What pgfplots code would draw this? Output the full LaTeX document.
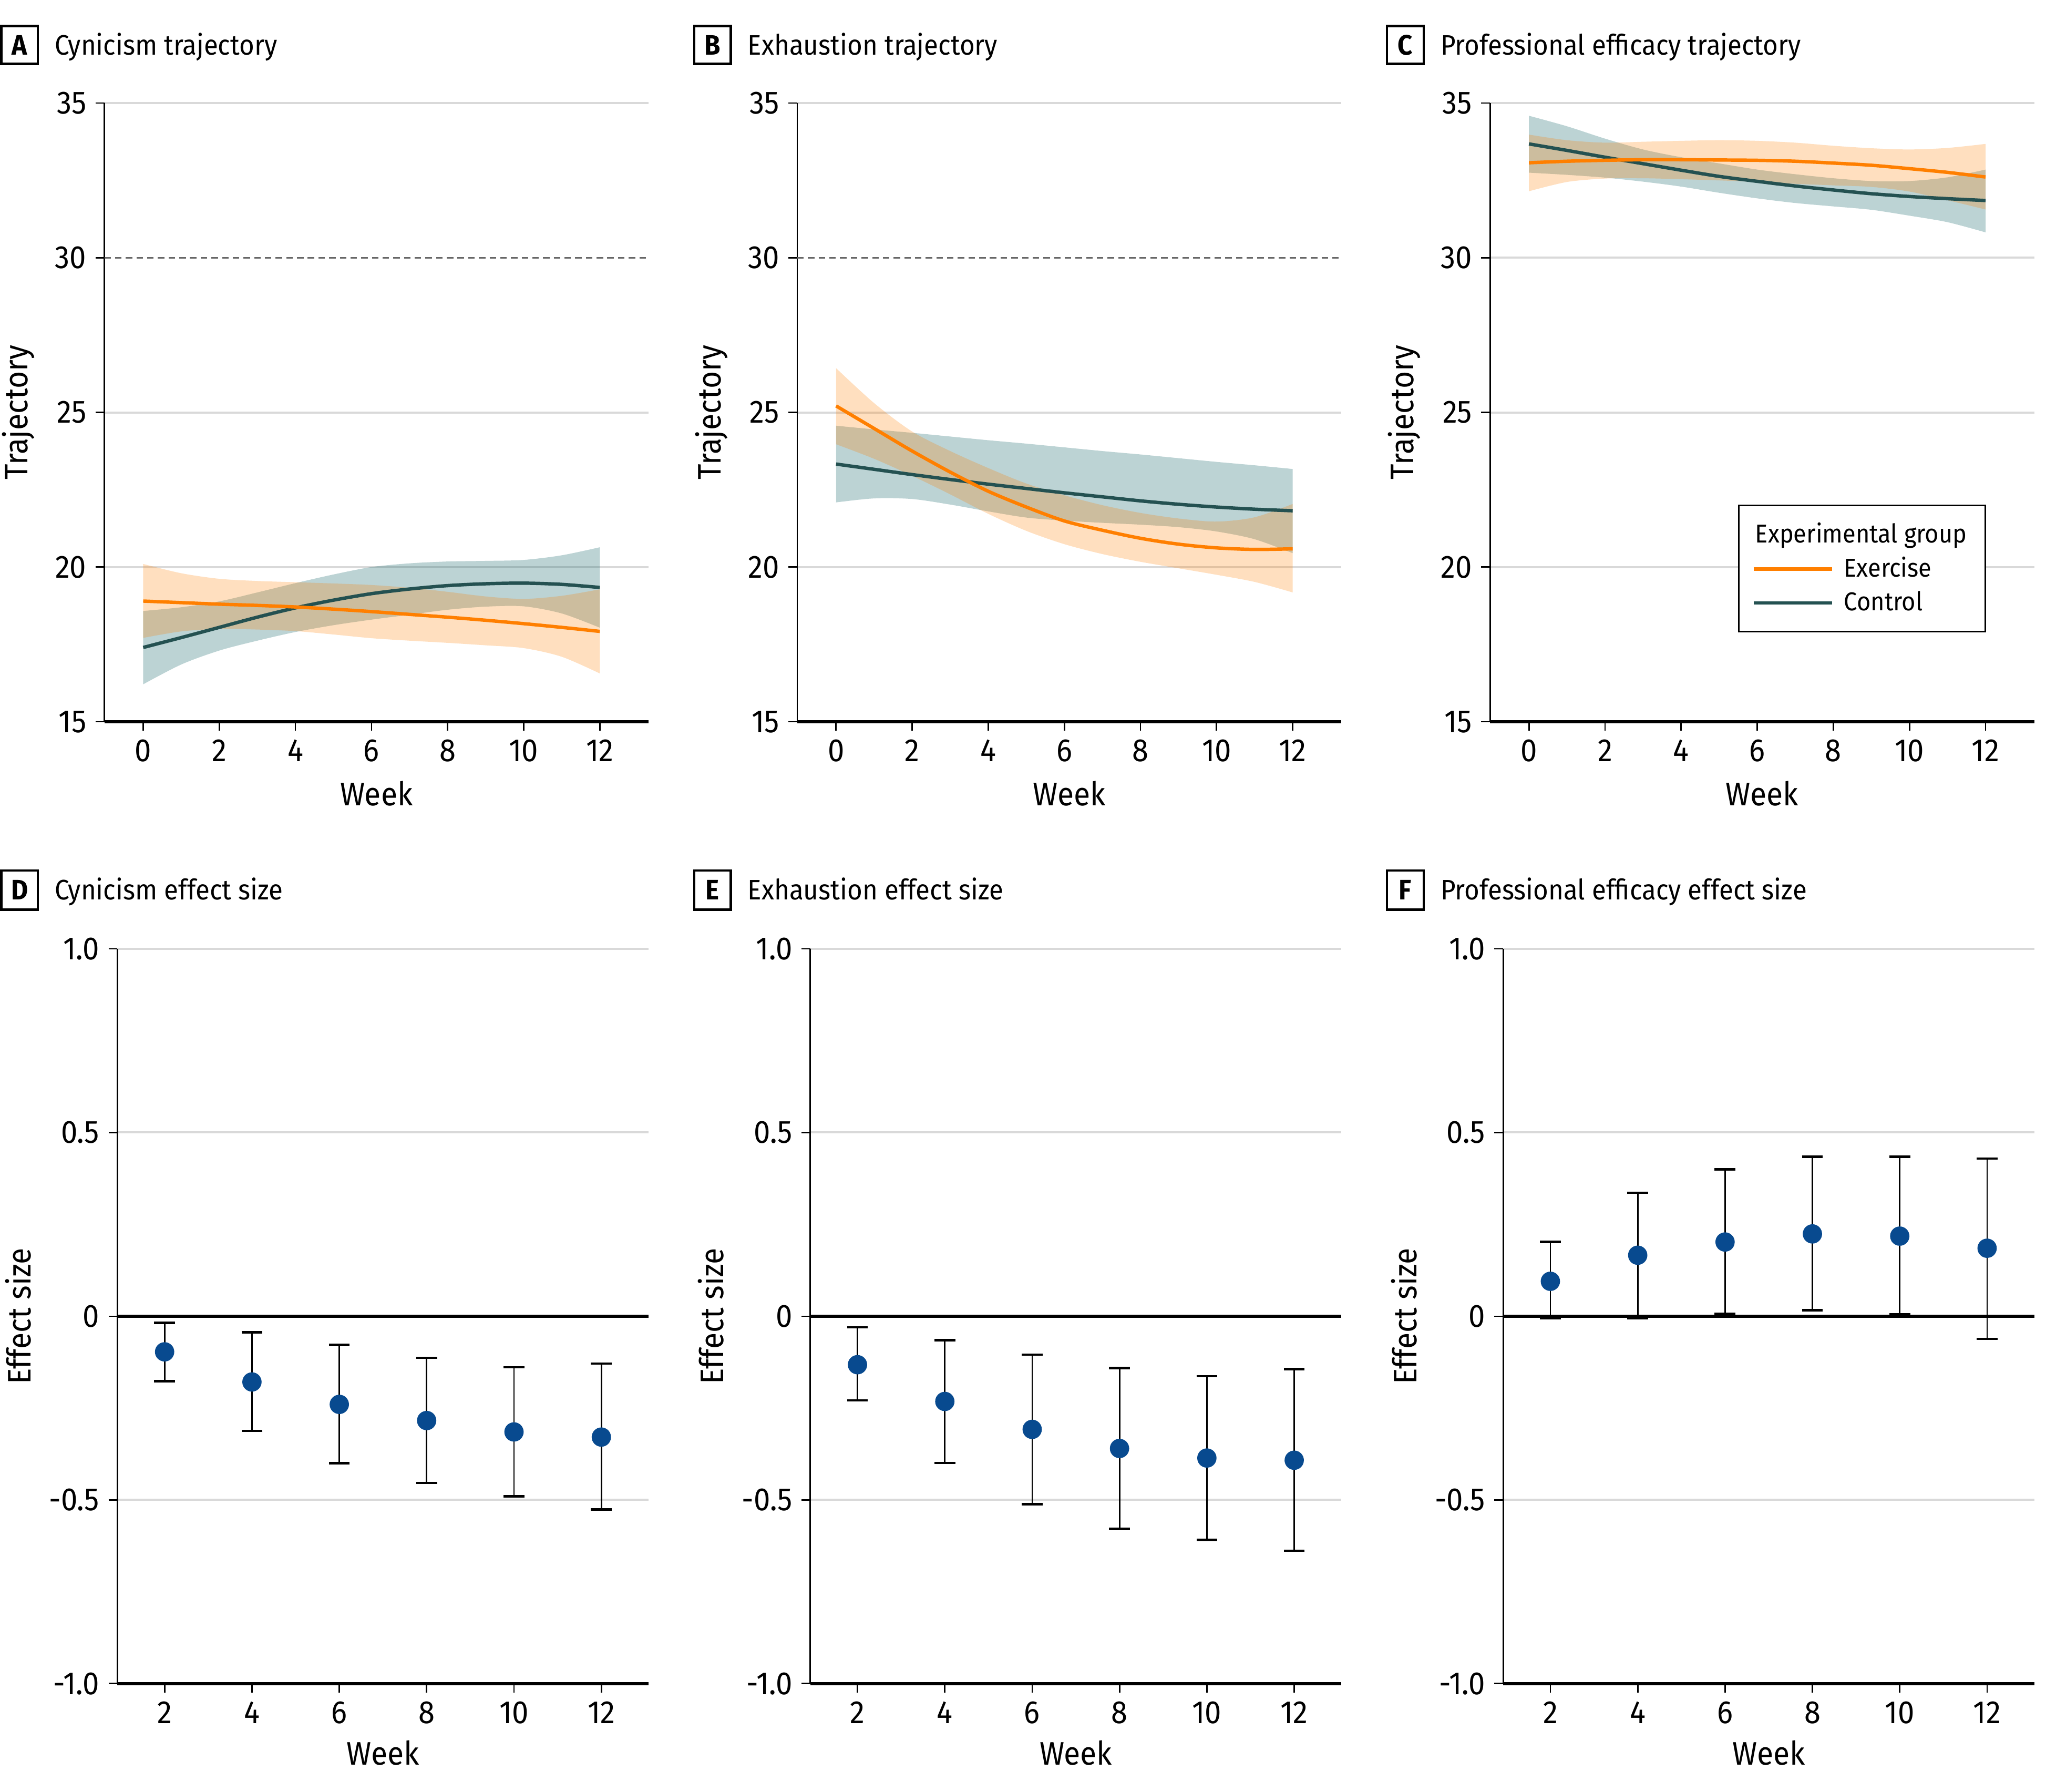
\documentclass[border=0pt]{standalone}
\usepackage{fontspec}
\setmainfont{Fira Sans}[FakeStretch=0.92]
\usepackage{pgfplots}
\usepackage{pgfplotstable}
\pgfplotsset{compat=1.18}
\usepgfplotslibrary{fillbetween}

\definecolor{exorange}{RGB}{255,127,0}
\definecolor{ctline}{RGB}{36,81,81}
\definecolor{ctfill}{RGB}{32,108,112}
\definecolor{gridgray}{RGB}{217,217,217}
\definecolor{dotblue}{RGB}{8,74,143}

\newcommand\tickfont{\fontsize{12.3bp}{14bp}\selectfont}
\newcommand\labfont{\fontsize{12.5bp}{15bp}\selectfont}
\newcommand\titfont{\fontsize{10.8bp}{13bp}\selectfont}
\newcommand\legfont{\fontsize{9.9bp}{12bp}\selectfont}

\pgfplotstableread{
w exlo exmid exhi ctlo ctmid cthi
0  17.71 18.90 20.10 16.21 17.40 18.58
1  17.92 18.85 19.80 16.85 17.72 18.70
2  18.00 18.80 19.62 17.30 18.05 18.89
3  17.98 18.76 19.55 17.62 18.38 19.18
4  17.93 18.71 19.51 17.90 18.68 19.48
5  17.82 18.64 19.47 18.12 18.93 19.76
6  17.70 18.56 19.42 18.30 19.14 20.00
7  17.62 18.47 19.33 18.46 19.29 20.12
8  17.55 18.38 19.20 18.62 19.40 20.18
9  17.47 18.28 19.05 18.72 19.46 20.20
10 17.38 18.17 18.97 18.73 19.48 20.23
11 17.10 18.05 19.07 18.50 19.44 20.38
12 16.56 17.92 19.28 18.04 19.34 20.64
}\tabA
\pgfplotstableread{
w exlo exmid exhi ctlo ctmid cthi
0  23.97 25.21 26.43 22.09 23.33 24.57
1  23.50 24.48 25.30 22.22 23.16 24.45
2  22.95 23.75 24.38 22.20 22.99 24.34
3  22.35 23.07 23.75 22.02 22.83 24.22
4  21.72 22.45 23.20 21.80 22.68 24.10
5  21.17 21.94 22.70 21.60 22.54 23.99
6  20.74 21.49 22.32 21.50 22.40 23.87
7  20.42 21.19 22.00 21.43 22.27 23.75
8  20.17 20.93 21.75 21.37 22.14 23.64
9  19.96 20.74 21.57 21.29 22.03 23.52
10 19.75 20.62 21.47 21.15 21.94 23.40
11 19.52 20.57 21.61 20.90 21.87 23.29
12 19.18 20.59 22.04 20.45 21.82 23.17
}\tabB
\pgfplotstableread{
w exlo exmid exhi ctlo ctmid cthi
0  32.15 33.07 33.98 32.75 33.68 34.59
1  32.45 33.12 33.80 32.68 33.47 34.25
2  32.56 33.15 33.72 32.59 33.25 33.85
3  32.57 33.17 33.75 32.46 33.04 33.50
4  32.54 33.17 33.78 32.30 32.83 33.25
5  32.50 33.16 33.80 32.10 32.63 33.05
6  32.45 33.15 33.78 31.92 32.47 32.85
7  32.39 33.12 33.72 31.77 32.32 32.70
8  32.34 33.06 33.62 31.66 32.19 32.57
9  32.29 32.99 33.54 31.55 32.07 32.48
10 32.14 32.88 33.50 31.36 31.98 32.48
11 31.86 32.76 33.55 31.15 31.91 32.60
12 31.56 32.61 33.68 30.82 31.85 32.85
}\tabC
\pgfplotstableread{
w m hi lo
2  -0.097 -0.018 -0.177
4  -0.179 -0.044 -0.312
6  -0.240 -0.078 -0.400
8  -0.284 -0.113 -0.454
10 -0.315 -0.139 -0.490
12 -0.329 -0.129 -0.526
}\tabD
\pgfplotstableread{
w m hi lo
2  -0.132 -0.030 -0.229
4  -0.232 -0.065 -0.399
6  -0.308 -0.105 -0.512
8  -0.360 -0.141 -0.579
10 -0.386 -0.163 -0.609
12 -0.392 -0.144 -0.638
}\tabE
\pgfplotstableread{
w m hi lo
2  0.095 0.202 -0.005
4  0.166 0.336 -0.005
6  0.202 0.400 0.007
8  0.224 0.434 0.016
10 0.218 0.434 0.005
12 0.185 0.429 -0.062
}\tabF

\pgfplotsset{
  base/.style={
    scale only axis,
    anchor=south west,
    axis x line*=bottom, axis y line*=left,
    axis line style={-},
    x axis line style={line width=1.1bp},
    y axis line style={line width=0.55bp},
    tick style={black, line width=0.55bp},
    major tick length=3.4bp,
    tick align=outside,
    ymajorgrids,
    major grid style={color=gridgray, line width=0.8bp},
    ticklabel style={font=\tickfont},
    label style={font=\labfont},
    /pgf/number format/assume math mode=true,
    clip=false,
  },
  traj/.style={
    base,
    width=208.5bp, height=237bp,
    xmin=-1.02, xmax=13.28, ymin=15, ymax=35,
    xtick={0,2,...,12},
    xlabel={Week}, ylabel={Trajectory},
    xlabel style={at={(axis description cs:0.5,-0.116)}, anchor=center},
    ylabel style={at={(axis description cs:-0.158,0.5)}, anchor=center},
  },
  eff/.style={
    base,
    width=203.5bp, height=281.5bp,
    xmin=0.92, xmax=13.08, ymin=-1, ymax=1,
    xtick={2,4,...,12},
    ytick={-1,-0.5,0,0.5,1},
    yticklabels={-1.0,-0.5,0,0.5,1.0},
    xlabel={Week}, ylabel={Effect size},
    xlabel style={at={(axis description cs:0.5,-0.094)}, anchor=center},
    ylabel style={at={(axis description cs:-0.187,0.5)}, anchor=center},
  },
  band/.style={draw=none, smooth, forget plot},
}

\newcommand\trajplots[1]{%
  \addplot[band, name path=cu] table[x=w,y=cthi]{#1};
  \addplot[band, name path=cl] table[x=w,y=ctlo]{#1};
  \addplot[fill=ctfill, fill opacity=0.3, draw=none, forget plot] fill between[of=cu and cl];
  \addplot[ctline, line width=1.3bp, smooth, forget plot] table[x=w,y=ctmid]{#1};
  \addplot[band, name path=eu] table[x=w,y=exhi]{#1};
  \addplot[band, name path=el] table[x=w,y=exlo]{#1};
  \addplot[fill=exorange, fill opacity=0.25, draw=none, forget plot] fill between[of=eu and el];
  \addplot[exorange, line width=1.3bp, smooth, forget plot] table[x=w,y=exmid]{#1};
}
\newcommand\effplots[1]{%
  \addplot[black, line width=1.1bp, forget plot] coordinates {(0.92,0) (13.08,0)};
  \addplot[only marks, mark=*, mark size=3.5bp, color=dotblue,
    mark options={fill=dotblue, draw=dotblue},
    error bars/.cd, y dir=both, y explicit,
    error bar style={black, line width=0.55bp},
    error mark options={rotate=90, black, mark size=4bp, line width=0.9bp}]
    table[x=w, y=m, y error plus expr=\thisrow{hi}-\thisrow{m},
          y error minus expr=\thisrow{m}-\thisrow{lo}]{#1};
}

\begin{document}
\begin{tikzpicture}

% ---------- top row ----------
\begin{axis}[traj, at={(40bp,410bp)},
  ytick={15,20,25,35}, extra y ticks={30}, extra y tick style={ymajorgrids=false}]
  \addplot[black!60, line width=0.55bp, dash pattern=on 2.5bp off 1.6bp, forget plot] coordinates {(-1.02,30) (13.28,30)};
  \trajplots{\tabA}
\end{axis}

\begin{axis}[traj, at={(305.5bp,410bp)},
  ytick={15,20,25,35}, extra y ticks={30}, extra y tick style={ymajorgrids=false}]
  \addplot[black!60, line width=0.55bp, dash pattern=on 2.5bp off 1.6bp, forget plot] coordinates {(-1.02,30) (13.28,30)};
  \trajplots{\tabB}
\end{axis}

\begin{axis}[traj, at={(571bp,410bp)},
  ytick={15,20,...,35},
  legend cell align=left,
  legend image code/.code={\draw[#1, line width=1.3bp] (0bp,0bp) -- (30bp,0bp);},
  legend style={at={(rel axis cs:0.911,0.1443)}, anchor=south east,
    draw=black, line width=0.6bp, fill=white, font=\legfont,
    inner xsep=5bp, inner ysep=4.5bp, row sep=0bp, column sep=2bp},
  ]
  \addlegendimage{empty legend}
  \addlegendentry{\hspace*{-34bp}Experimental group}
  \addlegendimage{exorange}
  \addlegendentry{Exercise}
  \addlegendimage{ctline}
  \addlegendentry{Control}
  \trajplots{\tabC}
\end{axis}

% ---------- bottom row ----------
\begin{axis}[eff, at={(45bp,41.5bp)}]
  \effplots{\tabD}
\end{axis}
\begin{axis}[eff, at={(310.5bp,41.5bp)}]
  \effplots{\tabE}
\end{axis}
\begin{axis}[eff, at={(576bp,41.5bp)}]
  \effplots{\tabF}
\end{axis}

% ---------- panel titles ----------
\foreach \ox/\L/\T in {0/A/Cynicism trajectory, 265.5/B/Exhaustion trajectory, 531/C/Professional efficacy trajectory}{
  \draw[line width=0.9bp] (\ox bp+0.5bp,662bp) rectangle (\ox bp+14.5bp,676.5bp);
  \node[anchor=base, font=\titfont\bfseries, inner sep=0] at (\ox bp+7.5bp,665.4bp) {\L};
  \node[anchor=base west, font=\titfont, inner sep=0] at (\ox bp+20.85bp,665.4bp) {\T};
}
\foreach \ox/\L/\T in {0/D/Cynicism effect size, 265.5/E/Exhaustion effect size, 531/F/Professional efficacy effect size}{
  \draw[line width=0.9bp] (\ox bp+0.5bp,338bp) rectangle (\ox bp+14.5bp,353bp);
  \node[anchor=base, font=\titfont\bfseries, inner sep=0] at (\ox bp+7.5bp,341.8bp) {\L};
  \node[anchor=base west, font=\titfont, inner sep=0] at (\ox bp+20.85bp,341.8bp) {\T};
}
\pgfresetboundingbox
\useasboundingbox (0bp,0bp) rectangle (784bp,686.5bp);
\end{tikzpicture}
\end{document}
